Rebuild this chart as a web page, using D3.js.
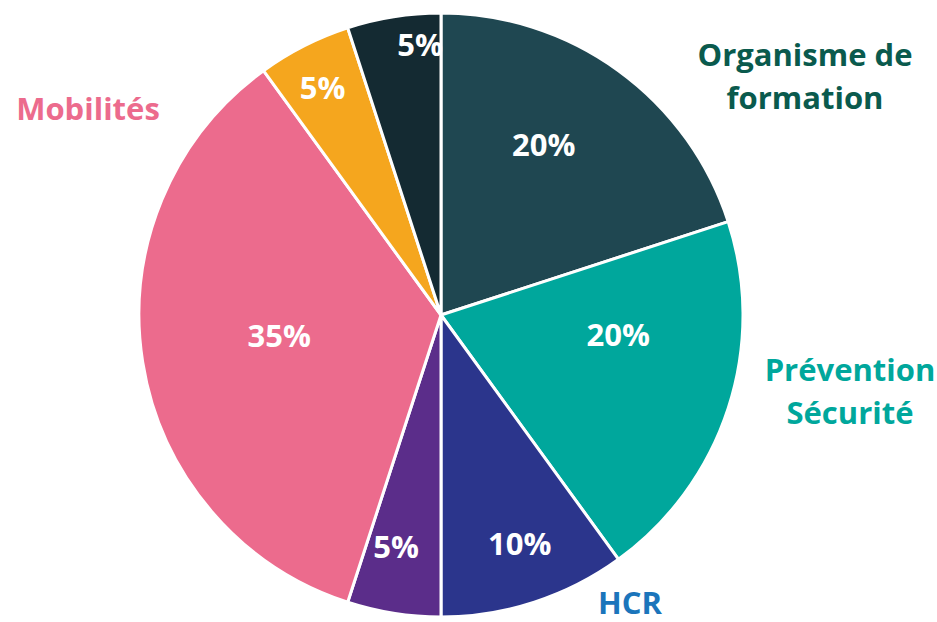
<!DOCTYPE html>
<html>
<head>
<meta charset="utf-8">
<script src="https://cdn.jsdelivr.net/npm/d3@7"></script>
<style>
  body { margin: 0; background: #fff; }
  svg text { font-family: "Open Sans", Lato, sans-serif; font-weight: bold; }
</style>
</head>
<body>
<svg id="chart" width="937" height="622"></svg>
<script>
// slices, clockwise from 12 o'clock
const categories = ['Organisme de formation', 'Prévention Sécurité', 'HCR', 'Autre 1', 'Mobilités', 'Autre 2', 'Autre 3'];
const values = [20, 20, 10, 5, 35, 5, 5];
const valueLabels = ['20%', '20%', '10%', '5%', '35%', '5%', '5%'];
const sliceColors = ['#1f4751', '#00a79c', '#2b358c', '#5b2d8a', '#ec6b8d', '#f5a61e', '#142a32'];

// category names written outside the pie
const outerNames = [['Organisme de', 'formation'], ['Prévention', 'Sécurité'], ['HCR'], [], ['Mobilités'], [], []];
const outerColors = ['#0a5a4d', '#00a79c', '#1b75bb', null, '#ec6b8d', null, null];

const width = 937;
const height = 622;
const cx = 441, cy = 315, radius = 302;

// label placement tweaks: [radius fraction, angle shift in degrees]
const labelPos = [[0.66, -5], [0.59, -12], [0.8, -1], [0.78, 2], [0.54, 2], [0.85, -0.5], [0.9, 4.6]];
// outer name anchors (x, y of first baseline)
const outerPos = [[805, 66], [850, 381], [630, 614], null, [88, 120], null, null];

const svg = d3.select('#chart');
const g = svg.append('g').attr('transform', `translate(${cx},${cy})`);

const pie = d3.pie().sort(null).value(d => d);
const arcs = pie(values);
const arc = d3.arc().innerRadius(0).outerRadius(radius);

g.selectAll('path')
  .data(arcs)
  .enter().append('path')
  .attr('d', arc)
  .attr('fill', (d, i) => sliceColors[i])
  .attr('stroke', '#fff')
  .attr('stroke-width', 3)
  .attr('stroke-linejoin', 'round');

// value labels
g.selectAll('text.val')
  .data(arcs)
  .enter().append('text')
  .attr('class', 'val')
  .attr('text-anchor', 'middle')
  .attr('dominant-baseline', 'central')
  .attr('fill', '#fff')
  .attr('font-size', '31px')
  .attr('x', (d, i) => {
    const a = (d.startAngle + d.endAngle) / 2 + labelPos[i][1] * Math.PI / 180;
    return Math.sin(a) * radius * labelPos[i][0];
  })
  .attr('y', (d, i) => {
    const a = (d.startAngle + d.endAngle) / 2 + labelPos[i][1] * Math.PI / 180;
    return -Math.cos(a) * radius * labelPos[i][0];
  })
  .text((d, i) => valueLabels[i]);

// category names
outerNames.forEach((lines, i) => {
  if (!lines.length) return;
  const t = svg.append('text')
    .attr('text-anchor', 'middle')
    .attr('fill', outerColors[i])
    .attr('font-size', '31px')
    .attr('x', outerPos[i][0])
    .attr('y', outerPos[i][1]);
  lines.forEach((line, j) => {
    t.append('tspan')
      .attr('x', outerPos[i][0])
      .attr('dy', j === 0 ? 0 : 43)
      .text(line);
  });
});
</script>
</body>
</html>
